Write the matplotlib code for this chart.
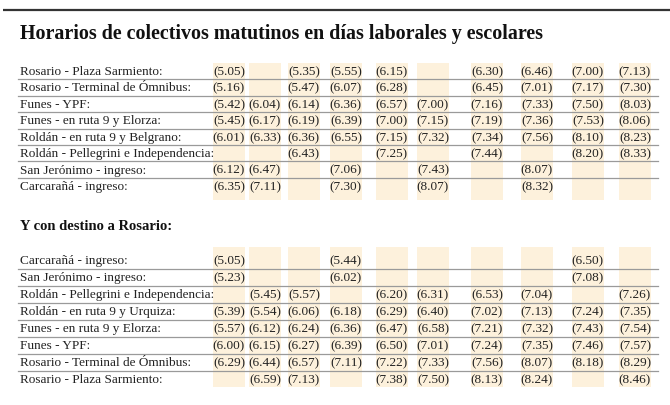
import matplotlib
matplotlib.use("Agg")
import matplotlib.pyplot as plt
from matplotlib.patches import Rectangle

title = "Horarios de colectivos matutinos en días laborales y escolares"
subtitle = "Y con destino a Rosario:"

stops_ida = [
    "Rosario - Plaza Sarmiento:",
    "Rosario - Terminal de Ómnibus:",
    "Funes - YPF:",
    "Funes - en ruta 9 y Elorza:",
    "Roldán - en ruta 9 y Belgrano:",
    "Roldán - Pellegrini e Independencia:",
    "San Jerónimo - ingreso:",
    "Carcarañá - ingreso:",
]
times_ida = [
    ["5.05", "", "5.35", "5.55", "6.15", "", "6.30", "6.46", "7.00", "7.13"],
    ["5.16", "", "5.47", "6.07", "6.28", "", "6.45", "7.01", "7.17", "7.30"],
    ["5.42", "6.04", "6.14", "6.36", "6.57", "7.00", "7.16", "7.33", "7.50", "8.03"],
    ["5.45", "6.17", "6.19", "6.39", "7.00", "7.15", "7.19", "7.36", "7.53", "8.06"],
    ["6.01", "6.33", "6.36", "6.55", "7.15", "7.32", "7.34", "7.56", "8.10", "8.23"],
    ["", "", "6.43", "", "7.25", "", "7.44", "", "8.20", "8.33"],
    ["6.12", "6.47", "", "7.06", "", "7.43", "", "8.07", "", ""],
    ["6.35", "7.11", "", "7.30", "", "8.07", "", "8.32", "", ""],
]

stops_vuelta = [
    "Carcarañá - ingreso:",
    "San Jerónimo - ingreso:",
    "Roldán - Pellegrini e Independencia:",
    "Roldán - en ruta 9 y Urquiza:",
    "Funes - en ruta 9 y Elorza:",
    "Funes - YPF:",
    "Rosario - Terminal de Ómnibus:",
    "Rosario - Plaza Sarmiento:",
]
times_vuelta = [
    ["5.05", "", "", "5.44", "", "", "", "", "6.50", ""],
    ["5.23", "", "", "6.02", "", "", "", "", "7.08", ""],
    ["", "5.45", "5.57", "", "6.20", "6.31", "6.53", "7.04", "", "7.26"],
    ["5.39", "5.54", "6.06", "6.18", "6.29", "6.40", "7.02", "7.13", "7.24", "7.35"],
    ["5.57", "6.12", "6.24", "6.36", "6.47", "6.58", "7.21", "7.32", "7.43", "7.54"],
    ["6.00", "6.15", "6.27", "6.39", "6.50", "7.01", "7.24", "7.35", "7.46", "7.57"],
    ["6.29", "6.44", "6.57", "7.11", "7.22", "7.33", "7.56", "8.07", "8.18", "8.29"],
    ["", "6.59", "7.13", "", "7.38", "7.50", "8.13", "8.24", "", "8.46"],
]

# layout (pixels)
col_left = [213, 249, 288, 330, 376, 417, 471, 521, 572, 619]
band_w = 32
band_col = "#fdf1dc"
line_col = "#9a9a9a"
txt_col = "#222222"
serif = ["Liberation Serif", "DejaVu Serif"]

fig = plt.figure(figsize=(6.7, 4.06), dpi=100)
ax = fig.add_axes([0, 0, 1, 1])
ax.set_xlim(0, 670)
ax.set_ylim(406, 0)
ax.axis("off")

ax.plot([3, 670], [10.5, 10.5], color="#333333", lw=1.6, solid_capstyle="butt")
ax.text(20, 34, title, fontsize=14.4, fontweight="bold", family=serif,
        color="#111111", va="center", ha="left")
ax.text(20, 227, subtitle, fontsize=10.5, fontweight="bold", family=serif,
        color="#111111", va="center", ha="left")


def draw_block(stops, times, y0, dy, band_top, band_bot):
    for x in col_left:
        ax.add_patch(Rectangle((x, band_top), band_w, band_bot - band_top,
                               facecolor=band_col, edgecolor="none", zorder=0))
    for i, (stop, row) in enumerate(zip(stops, times)):
        y = y0 + i * dy
        ax.text(20, y, stop, fontsize=9.5, family=serif, color=txt_col,
                va="center", ha="left")
        for x, t in zip(col_left, row):
            if t:
                ax.text(x + band_w, y, "(" + t + ")", fontsize=9.5, family=serif,
                        color=txt_col, va="center", ha="right")
        if i < len(stops) - 1:
            ax.plot([18, 658], [y + dy / 2, y + dy / 2], color=line_col, lw=0.9)


draw_block(stops_ida, times_ida, 72, 16.45, 64, 201)
draw_block(stops_vuelta, times_vuelta, 261, 17.0, 248, 388)

fig.savefig("out.png", dpi=100)
